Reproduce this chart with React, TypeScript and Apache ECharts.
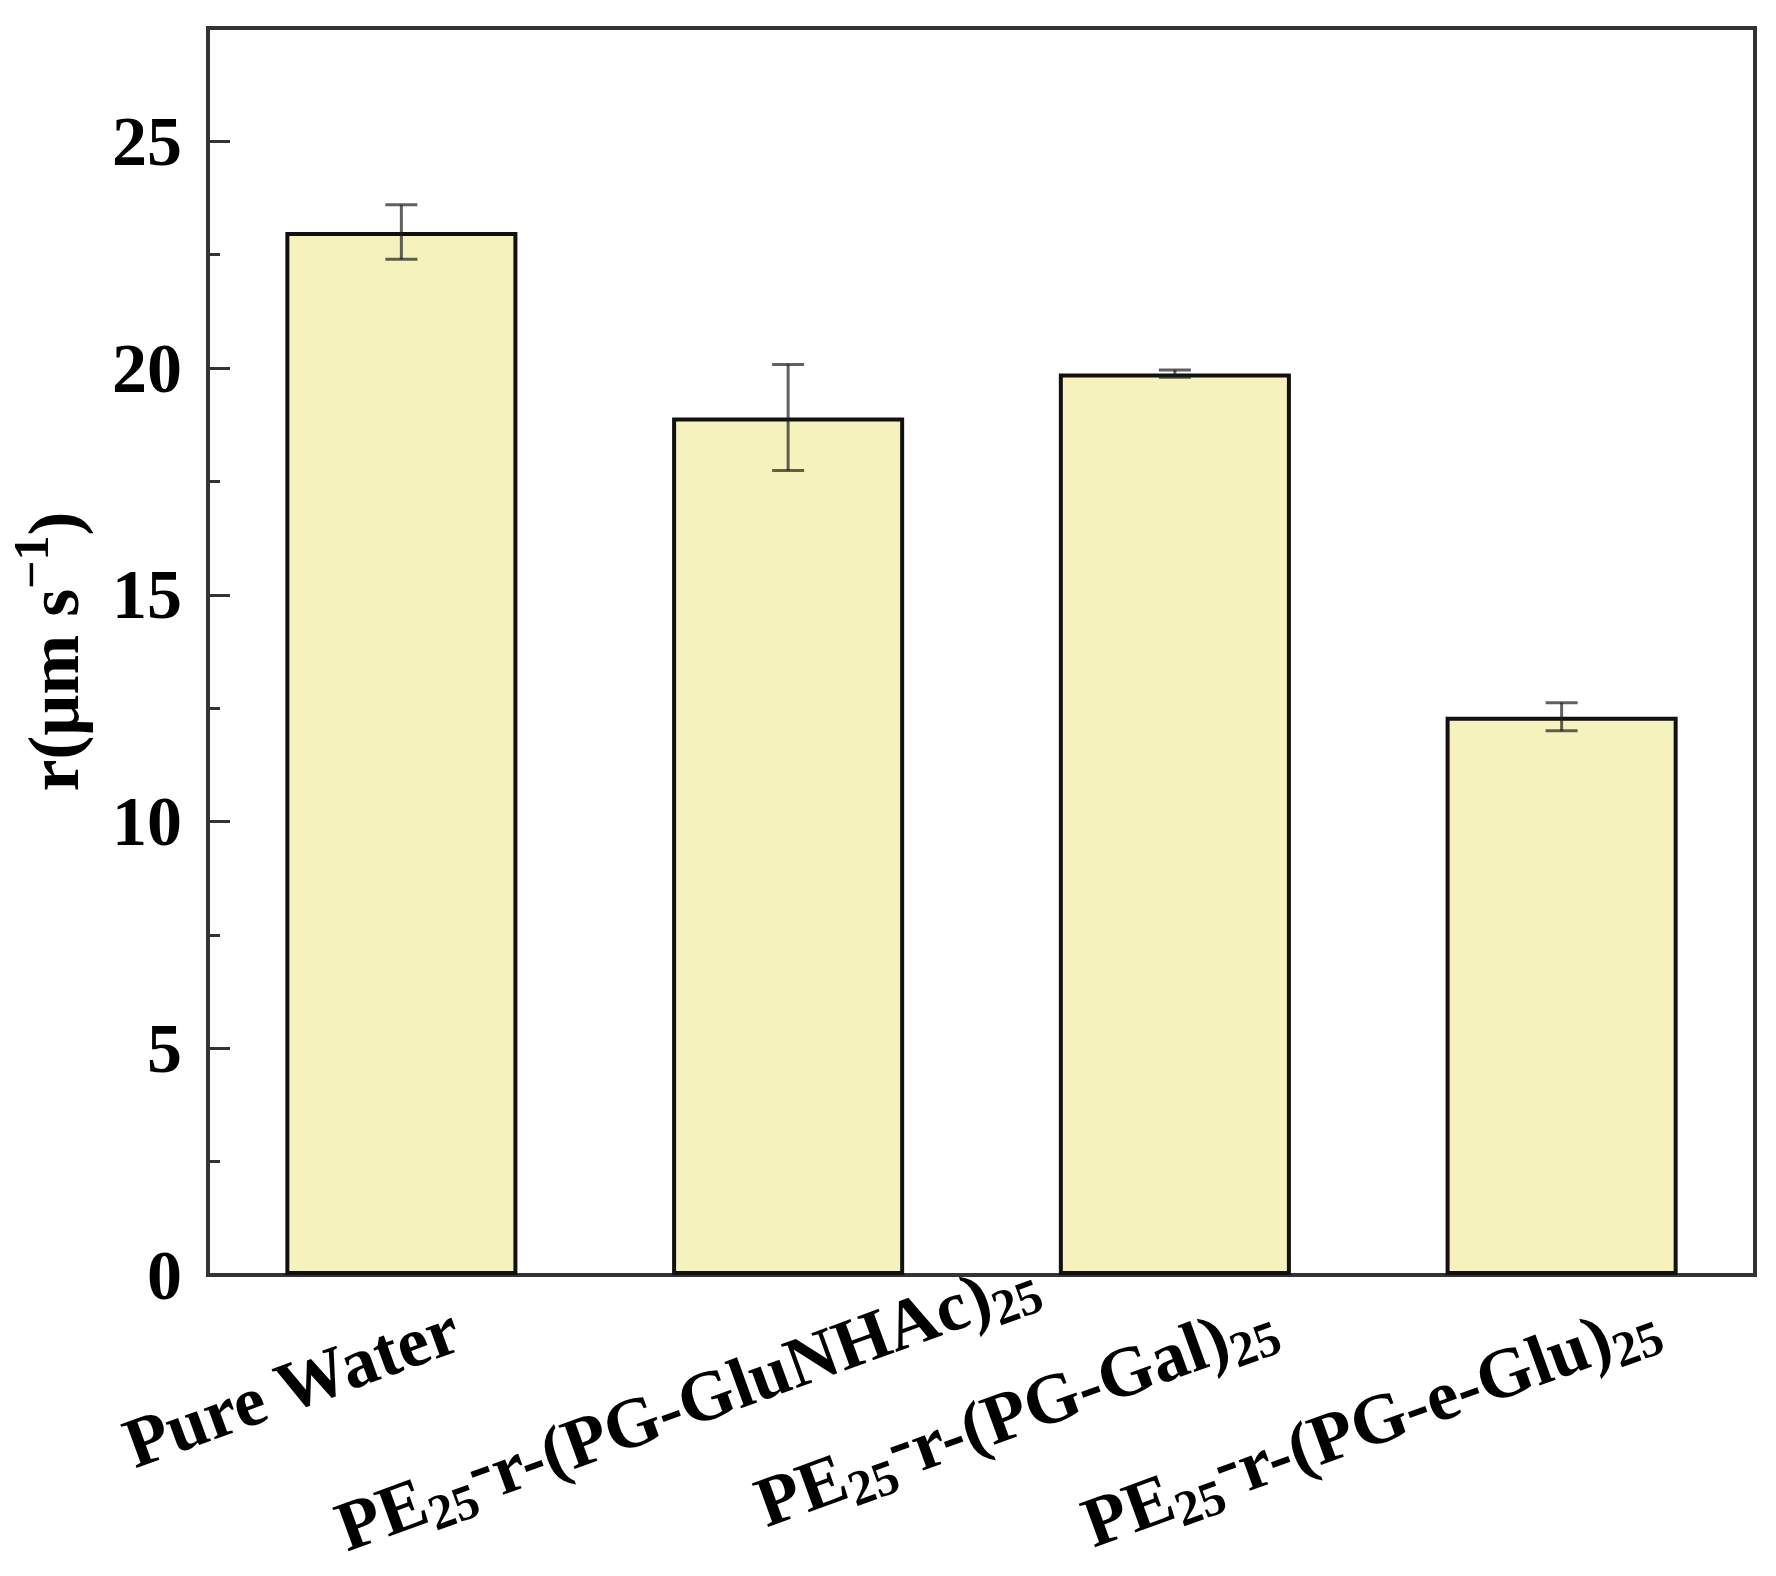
import React, { useEffect, useRef } from "react";
import * as echarts from "echarts";

const categories = [
  "Pure Water",
  "PE25-r-(PG-GluNHAc)25",
  "PE25-r-(PG-Gal)25",
  "PE25-r-(PG-e-Glu)25",
];
const categoryLabels = [
  "{m|Pure Water}",
  "{m|PE}{s|25}{h|-}{m|r-(PG-GluNHAc)}{s|25}",
  "{m|PE}{s|25}{h|-}{m|r-(PG-Gal)}{s|25}",
  "{m|PE}{s|25}{h|-}{m|r-(PG-e-Glu)}{s|25}",
];
const values = [23.0, 18.91, 19.88, 12.31];
const errors = [0.6, 1.17, 0.08, 0.31];
const yTickLabels = ["0", "5", "10", "15", "20", "25"];

// per-label placement tweaks (padding: top, right, bottom, left)
const labelPaddings = [
  [0, -61, 15, 0],
  [22, -258, 0, 0],
  [0, -104, 1, 0],
  [0, -100, 4, 0],
];

const FONT = '"Liberation Serif", "Times New Roman", serif';

export default function App() {
  const ref = useRef<HTMLDivElement>(null);
  useEffect(() => {
    document.body.style.margin = "0";
    if (!ref.current) return;
    const chart = echarts.init(ref.current, undefined, { renderer: "svg" });
    const baseText = { fontFamily: FONT, fontWeight: "bold" as const, color: "#000" };
    chart.setOption({
      animation: false,
      backgroundColor: "#fff",
      grid: {
        left: 208,
        right: 21,
        top: 28,
        bottom: 301,
        containLabel: false,
        outerBoundsMode: "none",
        show: true,
        borderColor: "#333",
        borderWidth: 4,
        backgroundColor: "transparent",
      },
      xAxis: {
        type: "category",
        data: categories.map((c, i) => ({
          value: c,
          textStyle: { padding: labelPaddings[i] },
        })),
        axisLine: { show: true, lineStyle: { color: "#333", width: 4 } },
        axisTick: { show: false },
        splitLine: { show: false },
        axisLabel: {
          interval: 0,
          rotate: 20,
          margin: 79,
          formatter: (_v: string, i: number) => categoryLabels[i],
          rich: {
            m: { ...baseText, fontSize: 71, height: 71, lineHeight: 86 },
            s: { ...baseText, fontSize: 50, height: 50, lineHeight: 50, verticalAlign: "bottom" },
            h: { ...baseText, fontSize: 71, height: 60, lineHeight: 60, verticalAlign: "top" },
          },
        },
      },
      yAxis: [
        {
          type: "value",
          min: 0,
          max: 27.5,
          interval: 5,
          position: "left",
          name: "{a|r(μm s}{p|−1}{a|)}",
          nameLocation: "middle",
          nameGap: 110,
          nameMoveOverlap: false,
          nameTextStyle: {
            rich: {
              a: { ...baseText, fontSize: 72, height: 72, lineHeight: 88 },
              p: { ...baseText, fontSize: 50, height: 41, lineHeight: 41, verticalAlign: "top" },
            },
          },
          axisLine: { show: true, lineStyle: { color: "#333", width: 4 } },
          axisTick: { show: true, inside: true, length: 22, lineStyle: { color: "#333", width: 3 } },
          splitLine: { show: false },
          axisLabel: {
            margin: 26,
            ...baseText,
            fontSize: 70,
            formatter: (v: number) => {
              const idx = Math.round(v / 5);
              return Math.abs(v - idx * 5) < 1e-6 && idx < yTickLabels.length ? yTickLabels[idx] : "";
            },
          },
        },
        {
          type: "value",
          min: 0,
          max: 27.5,
          interval: 2.5,
          position: "left",
          axisLine: { show: false },
          axisTick: { show: true, inside: true, length: 12, lineStyle: { color: "#333", width: 3 } },
          axisLabel: { show: false },
          splitLine: { show: false },
        },
      ],
      series: [
        {
          type: "bar",
          data: values,
          barWidth: "60%",
          itemStyle: { color: "#F6F2BE", borderColor: "#111", borderWidth: 4 },
          z: 2,
        },
        {
          type: "custom",
          data: values.map((v, i) => [i, v, errors[i]]),
          z: 5,
          renderItem: (params: any, api: any) => {
            const x = api.value(0);
            const v = api.value(1);
            const e = api.value(2);
            const top = api.coord([x, v + e]);
            const bot = api.coord([x, v - e]);
            const half = 16;
            const style = { stroke: "rgba(30,30,30,0.7)", lineWidth: 3 };
            return {
              type: "group",
              children: [
                { type: "line", shape: { x1: top[0], y1: top[1], x2: bot[0], y2: bot[1] }, style },
                { type: "line", shape: { x1: top[0] - half, y1: top[1], x2: top[0] + half, y2: top[1] }, style },
                { type: "line", shape: { x1: bot[0] - half, y1: bot[1], x2: bot[0] + half, y2: bot[1] }, style },
              ],
            };
          },
        },
      ],
    });
    return () => chart.dispose();
  }, []);
  return <div ref={ref} style={{ width: 1776, height: 1576 }} />;
}
